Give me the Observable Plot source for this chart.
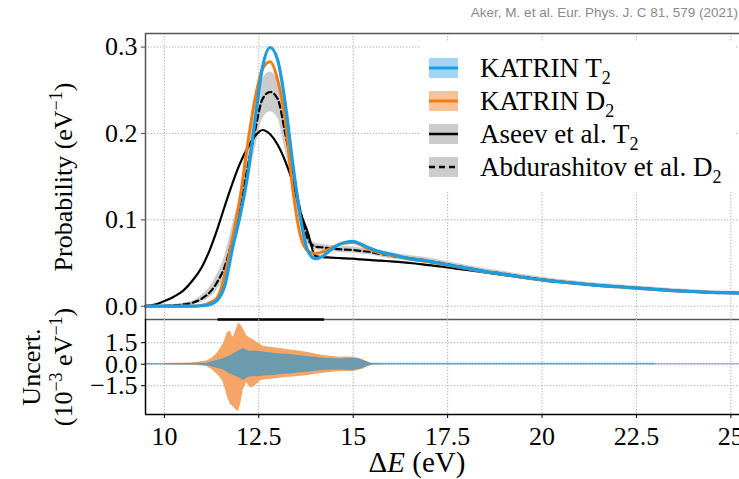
<!DOCTYPE html>
<html><head><meta charset="utf-8">
<script src="https://cdn.jsdelivr.net/npm/d3@7"></script>
<script src="https://cdn.jsdelivr.net/npm/@observablehq/plot@0.6"></script>
<style>
html,body{margin:0;padding:0;background:#fff;overflow:hidden;width:739px;height:479px;}
#wrap{position:relative;width:739px;height:479px;overflow:hidden;}
#top,#bot{position:absolute;left:0;}
#top{top:0;} #bot{top:319px;}
#wrap svg{max-width:none !important;overflow:visible;}
#credit{position:absolute;right:1px;top:5px;font:13.5px "Liberation Sans",Arial,sans-serif;color:#8a8a8a;white-space:nowrap;}
</style></head>
<body><div id="wrap"><div id="top"></div><div id="bot"></div><div id="credit"></div></div>
<script>
// ---------------- data ----------------
const E = [9.5, 9.75, 10.0, 10.25, 10.5, 10.75, 11.0, 11.2, 11.4, 11.6, 11.8, 12.0, 12.2, 12.4, 12.6, 12.8, 13.0, 13.2, 13.4, 13.6, 13.8, 14.0, 14.2, 14.4, 14.6, 14.8, 15.0, 15.2, 15.4, 15.6, 15.8, 16.0, 16.5, 17.0, 17.5, 18.0, 18.5, 19.0, 19.5, 20.0, 20.5, 21.0, 21.5, 22.0, 22.5, 23.0, 23.5, 24.0, 24.5, 25.0, 25.6];
const katrinT2 = [0, 0, 0, 0, 0, 0, 0.0005, 0.002, 0.007, 0.024, 0.066, 0.104, 0.150, 0.215, 0.277, 0.2995, 0.285, 0.235, 0.165, 0.103, 0.064, 0.055, 0.058, 0.065, 0.071, 0.074, 0.075, 0.072, 0.068, 0.0645, 0.062, 0.060, 0.055, 0.052, 0.048, 0.044, 0.040, 0.037, 0.0335, 0.0305, 0.028, 0.026, 0.024, 0.0225, 0.021, 0.0195, 0.018, 0.017, 0.016, 0.0155, 0.0148];
const katrinD2 = [0, 0, 0, 0, 0, 0, 0.001, 0.004, 0.010, 0.036, 0.078, 0.124, 0.186, 0.240, 0.275, 0.283, 0.262, 0.215, 0.135, 0.082, 0.064, 0.061, 0.063, 0.067, 0.071, 0.073, 0.074, 0.071, 0.066, 0.063, 0.061, 0.059, 0.0545, 0.0515, 0.0475, 0.0435, 0.0397, 0.0368, 0.0333, 0.0303, 0.0279, 0.0259, 0.0239, 0.0224, 0.0209, 0.0194, 0.0179, 0.0169, 0.0159, 0.0154, 0.0147];
const aseevT2 = [0.0005, 0.002, 0.006, 0.011, 0.018, 0.030, 0.046, 0.065, 0.089, 0.116, 0.142, 0.165, 0.183, 0.197, 0.204, 0.199, 0.187, 0.168, 0.143, 0.109, 0.085, 0.058, 0.0568, 0.0563, 0.0558, 0.0553, 0.055, 0.0543, 0.0537, 0.053, 0.0525, 0.052, 0.050, 0.0475, 0.045, 0.042, 0.039, 0.036, 0.033, 0.0305, 0.028, 0.026, 0.024, 0.0225, 0.021, 0.0195, 0.018, 0.017, 0.016, 0.0155, 0.0148];
const abdurashitovD2 = [0, 0.0001, 0.0003, 0.001, 0.002, 0.004, 0.009, 0.016, 0.028, 0.046, 0.077, 0.111, 0.160, 0.203, 0.240, 0.248, 0.240, 0.200, 0.156, 0.110, 0.078, 0.069, 0.068, 0.067, 0.066, 0.0655, 0.065, 0.064, 0.063, 0.0615, 0.060, 0.0585, 0.0555, 0.0525, 0.0485, 0.0445, 0.0405, 0.0375, 0.034, 0.031, 0.0285, 0.0263, 0.0243, 0.0228, 0.0213, 0.0198, 0.0183, 0.0172, 0.0162, 0.0157, 0.015];
const abdurashitovErr = [0.0005, 0.0005, 0.001, 0.001, 0.0015, 0.002, 0.004, 0.006, 0.009, 0.012, 0.016, 0.018, 0.020, 0.022, 0.023, 0.023, 0.022, 0.020, 0.017, 0.012, 0.006, 0.004, 0.0035, 0.0035, 0.0035, 0.0035, 0.0035, 0.0035, 0.0035, 0.0035, 0.0035, 0.0035, 0.0033, 0.0032, 0.003, 0.003, 0.0028, 0.0027, 0.0026, 0.0025, 0.0024, 0.0023, 0.0022, 0.0021, 0.002, 0.002, 0.0019, 0.0018, 0.0018, 0.0017, 0.0017];

const uncE =    [9.5, 10.0, 10.1, 10.4, 10.68, 10.9, 11.12, 11.25, 11.39, 11.5, 11.56, 11.62, 11.67, 11.72, 11.76, 11.80, 11.83, 11.9, 11.96, 12.02, 12.09, 12.18, 12.25, 12.31, 12.38, 12.45, 12.55, 12.62, 12.89, 13.1, 13.33, 13.55, 13.77, 14.0, 14.21, 14.45, 14.65, 14.85, 15.0, 15.15, 15.27, 15.38, 15.45, 15.55, 15.71, 15.8, 23.0, 23.01, 25.6];
const uncD2Up = [0, 0, 0.06, 0.07, 0.09, 0.14, 0.22, 0.40, 0.73, 1.15, 1.43, 1.85, 2.18, 2.30, 2.25, 1.95, 1.90, 2.40, 2.88, 2.75, 2.45, 2.00, 1.85, 1.78, 1.65, 1.55, 1.35, 1.25, 1.15, 1.08, 1.00, 0.92, 0.84, 0.72, 0.61, 0.53, 0.49, 0.50, 0.49, 0.42, 0.30, 0.17, 0.07, 0.04, 0.03, 0, 0, 0, 0];
const uncD2Lo = [0, 0, -0.06, -0.07, -0.08, -0.11, -0.16, -0.35, -0.68, -1.00, -1.26, -1.80, -2.30, -2.60, -2.85, -2.90, -3.00, -3.20, -3.30, -2.80, -1.80, -1.26, -1.55, -1.66, -1.55, -1.40, -1.15, -1.10, -1.03, -0.97, -0.91, -0.85, -0.80, -0.70, -0.63, -0.56, -0.51, -0.51, -0.51, -0.42, -0.33, -0.20, -0.10, -0.05, -0.03, 0, 0, 0, 0];
const uncT2Up = [0.05, 0.05, 0.05, 0.05, 0.05, 0.06, 0.07, 0.15, 0.25, 0.32, 0.38, 0.45, 0.52, 0.58, 0.62, 0.68, 0.72, 0.82, 0.92, 1.00, 1.10, 1.00, 0.88, 0.90, 0.92, 0.90, 0.87, 0.85, 0.77, 0.72, 0.68, 0.60, 0.54, 0.48, 0.42, 0.39, 0.37, 0.40, 0.42, 0.36, 0.26, 0.15, 0.08, 0.06, 0.06, 0.06, 0.06, 0.035, 0.035];
const uncT2Lo = [-0.05, -0.05, -0.05, -0.05, -0.05, -0.06, -0.10, -0.18, -0.28, -0.36, -0.40, -0.50, -0.60, -0.66, -0.70, -0.75, -0.78, -0.86, -0.93, -1.02, -1.12, -1.00, -0.90, -0.88, -0.88, -0.87, -0.85, -0.83, -0.78, -0.72, -0.68, -0.62, -0.56, -0.50, -0.44, -0.41, -0.40, -0.42, -0.44, -0.37, -0.26, -0.15, -0.10, -0.06, -0.06, -0.06, -0.06, -0.035, -0.035];

const xTicks = [10, 12.5, 15, 17.5, 20, 22.5, 25];
const probTicks = [0.0, 0.1, 0.2, 0.3];
const uncTicks = [-1.5, 0.0, 1.5];
const xDomain = [9.5, 25.6];
const probDomain = [-0.0154, 0.3157];
const uncDomain = [-3.51, 3.12];
const markerRange = [11.42, 14.24];
const legendLabels = [["KATRIN T", "2"], ["KATRIN D", "2"], ["Aseev et al. T", "2"], ["Abdurashitov et al. D", "2"]];
const creditText = "Aker, M. et al. Eur. Phys. J. C 81, 579 (2021)";

// ---------------- build ----------------
const FONT = '"Liberation Serif","Times New Roman",Times,serif';
const topData = E.map((e, i) => ({e, t2: katrinT2[i], d2: katrinD2[i], aseev: aseevT2[i], abd: abdurashitovD2[i], lo: abdurashitovD2[i] - abdurashitovErr[i], hi: abdurashitovD2[i] + abdurashitovErr[i]}));
const uncData = uncE.map((e, i) => ({e, d2up: uncD2Up[i], d2lo: uncD2Lo[i], t2up: uncT2Up[i], t2lo: uncT2Lo[i]}));
const grid = {stroke: "#b4b4b4", strokeOpacity: 1, strokeWidth: 1, strokeDasharray: "1.4,1.6"};
const fmt1 = d => (d < 0 ? "\u2212" : "") + Math.abs(d).toFixed(1);
const baseStyle = {fontFamily: FONT, fontSize: "26px", background: "transparent", maxWidth: "none", overflow: "visible", color: "black"};

const topPlot = Plot.plot({
  width: 760, height: 320, marginTop: 33, marginBottom: 1, marginLeft: 145, marginRight: 7,
  style: baseStyle,
  x: {domain: xDomain, axis: null},
  y: {domain: probDomain, label: null},
  marks: [
    Plot.gridX(xTicks, grid),
    Plot.gridY(probTicks, grid),
    Plot.areaY(topData, {x: "e", y1: "lo", y2: "hi", fill: "#c9c9c9", fillOpacity: 0.95, curve: "monotone-x"}),
    Plot.line(topData, {x: "e", y: "aseev", stroke: "black", strokeWidth: 2.2, curve: "monotone-x"}),
    Plot.line(topData, {x: "e", y: "abd", stroke: "black", strokeWidth: 2.2, strokeDasharray: "6,3.5", curve: "monotone-x"}),
    Plot.line(topData, {x: "e", y: "d2", stroke: "#f07d14", strokeWidth: 3, curve: "monotone-x"}),
    Plot.line(topData, {x: "e", y: "t2", stroke: "#1c9de2", strokeWidth: 3.2, curve: "monotone-x"}),
    Plot.axisY(probTicks, {tickSize: 4, tickPadding: 4, tickFormat: fmt1, fontSize: 26, stroke: "#444", label: null}),
    Plot.frame({stroke: "#555", strokeWidth: 1.5}),
    Plot.ruleY([probDomain[0]], {x1: markerRange[0], x2: markerRange[1], stroke: "black", strokeWidth: 2.5})
  ]
});

const botPlot = Plot.plot({
  width: 760, height: 160, marginTop: 0, marginBottom: 65, marginLeft: 145, marginRight: 7,
  style: baseStyle,
  x: {domain: xDomain, label: null},
  y: {domain: uncDomain, label: null},
  marks: [
    Plot.gridX(xTicks, grid),
    Plot.gridY(uncTicks, grid),
    Plot.areaY(uncData, {x: "e", y1: "d2lo", y2: "d2up", fill: "#f5a565"}),
    Plot.areaY(uncData, {x: "e", y1: "t2lo", y2: "t2up", fill: "#4a98c0", fillOpacity: 0.8}),
    Plot.ruleX([xDomain[0]], {stroke: "black", strokeWidth: 1.5}),
    Plot.ruleY([uncDomain[0]], {stroke: "black", strokeWidth: 1.5}),
    Plot.axisY(uncTicks, {tickSize: 4, tickPadding: 4, tickFormat: fmt1, fontSize: 26, label: null}),
    Plot.axisX(xTicks, {tickSize: 4, tickPadding: 8, tickFormat: d => String(d), fontSize: 26, label: null})
  ]
});

document.getElementById("top").appendChild(topPlot);
document.getElementById("bot").appendChild(botPlot);
document.getElementById("credit").textContent = creditText;

// ---- labels with super/subscripts ----
function supText(sel, parts) {
  let shift = 0;
  parts.forEach(([t, m]) => {
    const ts = sel.append("tspan").text(t);
    const target = m === "sup" ? -10 : m === "sub" ? 7 : 0;
    ts.attr("dy", target - shift);
    shift = target;
    if (m !== "n") ts.attr("font-size", 18);
  });
}
const tsvg = d3.select(topPlot);
const yl = tsvg.append("text").attr("transform", "translate(72,177) rotate(-90)")
  .attr("text-anchor", "middle").attr("font-family", FONT).attr("font-size", 26).attr("fill", "black");
supText(yl, [["Probability (eV", "n"], ["\u22121", "sup"], [")", "n"]]);

// legend
const lg = tsvg.append("g").attr("text-anchor", "start");
lg.append("rect").attr("x", 420).attr("y", 42).attr("width", 316).attr("height", 150).attr("fill", "white");
const legendStyles = [
  {patch: "#a3d6f5", line: "#1c9de2", w: 3, dash: null},
  {patch: "#f9c196", line: "#f07d14", w: 3, dash: null},
  {patch: "#cccccc", line: "black", w: 2.5, dash: null},
  {patch: "#cccccc", line: "black", w: 2.5, dash: "6,4"}
];
legendLabels.forEach(([main, sub], i) => {
  const cy = 68 + i * 33, s = legendStyles[i];
  lg.append("rect").attr("x", 429).attr("y", cy - 10).attr("width", 29).attr("height", 20).attr("fill", s.patch);
  const ln = lg.append("line").attr("x1", 429).attr("x2", 458).attr("y1", cy).attr("y2", cy).attr("stroke", s.line).attr("stroke-width", s.w);
  if (s.dash) ln.attr("stroke-dasharray", s.dash);
  const t = lg.append("text").attr("x", 480).attr("y", cy + 9).attr("text-anchor", "start")
    .attr("font-family", FONT).attr("font-size", 27).attr("fill", "black");
  supText(t, [[main, "n"], [sub, "sub"]]);
});

const bsvg = d3.select(botPlot);
bsvg.append("text").attr("transform", "translate(40,48) rotate(-90)").attr("text-anchor", "middle")
  .attr("font-family", FONT).attr("font-size", 26).attr("fill", "black").text("Uncert.");
const u2 = bsvg.append("text").attr("transform", "translate(72,48) rotate(-90)").attr("text-anchor", "middle")
  .attr("font-family", FONT).attr("font-size", 26).attr("fill", "black");
supText(u2, [["(10", "n"], ["\u22123", "sup"], [" eV", "n"], ["\u22121", "sup"], [")", "n"]]);
const xl = bsvg.append("text").attr("x", 417).attr("y", 153).attr("text-anchor", "middle")
  .attr("font-family", FONT).attr("font-size", 29).attr("fill", "black");
xl.append("tspan").text("\u0394");
xl.append("tspan").attr("font-style", "italic").text("E");
xl.append("tspan").text(" (eV)");
</script></body></html>
